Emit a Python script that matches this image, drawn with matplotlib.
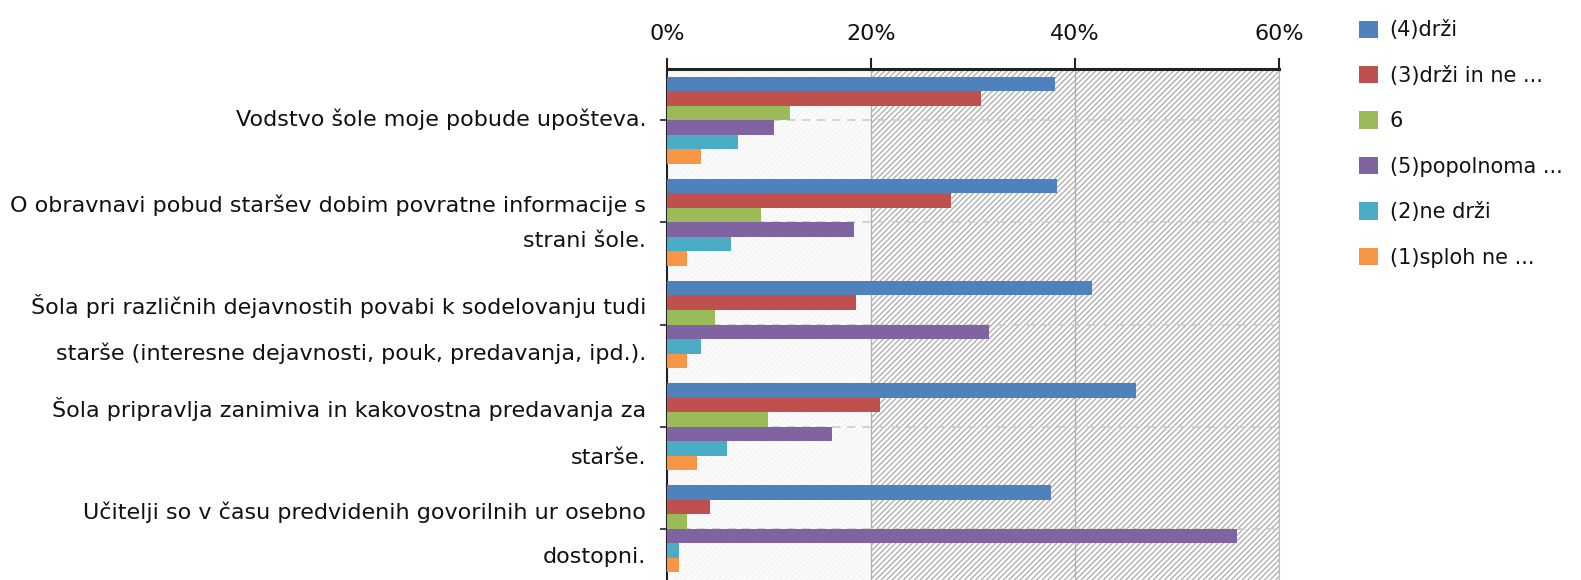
import matplotlib
matplotlib.use("Agg")
import matplotlib.pyplot as plt
import matplotlib.transforms as mtransforms
import numpy as np
from matplotlib.patches import Patch

categories = [
    "Vodstvo šole moje pobude upošteva.",
    "O obravnavi pobud staršev dobim povratne informacije s\nstrani šole.",
    "Šola pri različnih dejavnostih povabi k sodelovanju tudi\nstarše (interesne dejavnosti, pouk, predavanja, ipd.).",
    "Šola pripravlja zanimiva in kakovostna predavanja za\nstarše.",
    "Učitelji so v času predvidenih govorilnih ur osebno\ndostopni.",
]
series_names = ["(4)drži", "(3)drži in ne ...", "6", "(5)popolnoma ...", "(2)ne drži", "(1)sploh ne ..."]
s4_drzi = [38.0, 38.2, 41.7, 46.0, 37.6]
s3_drzi_in_ne = [30.8, 27.8, 18.5, 20.9, 4.2]
s6 = [12.0, 9.2, 4.7, 9.9, 1.9]
s5_popolnoma = [10.5, 18.3, 31.6, 16.2, 55.9]
s2_ne_drzi = [6.9, 6.3, 3.3, 5.9, 1.2]
s1_sploh_ne = [3.3, 1.9, 1.9, 2.9, 1.2]
series_values = [s4_drzi, s3_drzi_in_ne, s6, s5_popolnoma, s2_ne_drzi, s1_sploh_ne]
colors = ["#4F81BD", "#C0504D", "#9BBB59", "#8064A2", "#4BACC6", "#F79646"]
xticks = [0, 20, 40, 60]
xtick_labels = ["0%", "20%", "40%", "60%"]

plt.rcParams['font.family'] = ['DejaVu Sans']
plt.rcParams['hatch.linewidth'] = 0.9

fig = plt.figure(figsize=(15.81, 5.80), dpi=100)
ax = fig.add_axes([0.422, 0.0, 0.387, 0.881])

# background bands
ax.axvspan(0, 20, facecolor="#f6f6f6", edgecolor="#ffffff", hatch="//////", lw=0, zorder=0)
ax.axvspan(20, 60, facecolor="#ffffff", edgecolor="#aaaaaa", hatch="//////", lw=0, zorder=0)
for xv in xticks[1:]:
    ax.axvline(xv, color="#b0b0b0", lw=1.0, zorder=1)

n = len(series_values)
bh = 0.142
y = np.arange(len(categories))
for i, (vals, c, name) in enumerate(zip(series_values, colors, series_names)):
    offs = (i - (n - 1) / 2) * bh
    ax.barh(y + offs, vals, height=bh, color=c, zorder=3, label=name)

for yy in y:
    ax.axhline(yy, color="#cccccc", lw=1.2, ls=(0, (5, 4)), zorder=2)

ax.set_xlim(0, 60)
ax.set_ylim(len(categories) - 0.5, -0.5)
ax.xaxis.tick_top()
ax.set_xticks(xticks)
ax.set_xticklabels(xtick_labels, fontsize=16, color="#111111")
ax.tick_params(axis='x', which='major', length=8, width=1.5, direction='out', pad=10, color="#222222")
ax.set_yticks(y)
ax.set_yticklabels(categories, fontsize=16, color="#111111")
ax.tick_params(axis='y', length=5, width=1.2, pad=10, color="#222222")
spacings = [1.0, 1.94, 2.39, 2.72, 2.53]
shifts_px = [3, 9, 10, 10, 9]
for t, ls, sh in zip(ax.get_yticklabels(), spacings, shifts_px):
    t.set_linespacing(ls)
    t.set_transform(t.get_transform() + mtransforms.Affine2D().translate(0, sh))

ax.spines['top'].set_linewidth(2.2)
ax.spines['top'].set_color("#222222")
ax.spines['left'].set_linewidth(1.5)
ax.spines['left'].set_color("#222222")
ax.spines['right'].set_color("#bbbbbb")
ax.spines['bottom'].set_visible(False)

handles = [Patch(facecolor=c, edgecolor='none') for c in colors]
fig.legend(handles, series_names, loc='upper left', bbox_to_anchor=(0.848, 0.997),
           frameon=False, fontsize=15, handlelength=0.9, handleheight=0.9,
           handletextpad=0.55, labelspacing=1.22, labelcolor="#111111")

fig.savefig("out.png", dpi=100)
